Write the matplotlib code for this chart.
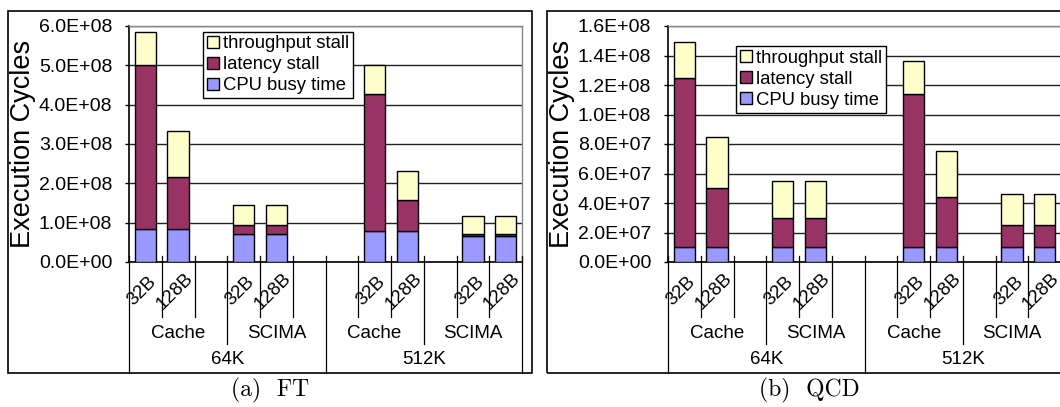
import numpy as np
import matplotlib
matplotlib.use("Agg")
import matplotlib.pyplot as plt
from matplotlib.patches import Rectangle, Patch
from matplotlib.ticker import FuncFormatter
from matplotlib.transforms import blended_transform_factory

plt.rcParams['font.family'] = ['Liberation Sans', 'DejaVu Sans']

# ---- data -----------------------------------------------------------
slot_labels = ['32B', '128B', '', '32B', '128B', '', '', '32B', '128B', '', '32B', '128B']
bar_slots = [0, 1, 3, 4, 7, 8, 10, 11]
mid_labels = ['Cache', 'SCIMA', 'Cache', 'SCIMA']
top_labels = ['64K', '512K']
series = ['CPU busy time', 'latency stall', 'throughput stall']
colors = ['#9999FF', '#993366', '#FFFFCC']

ft_cpu = [0.85e8, 0.85e8, 0.70e8, 0.70e8, 0.78e8, 0.78e8, 0.67e8, 0.67e8]
ft_lat = [4.15e8, 1.32e8, 0.25e8, 0.25e8, 3.50e8, 0.80e8, 0.04e8, 0.04e8]
ft_thr = [0.86e8, 1.15e8, 0.50e8, 0.50e8, 0.72e8, 0.73e8, 0.46e8, 0.46e8]

qcd_cpu = [1.0e7, 1.0e7, 1.0e7, 1.0e7, 1.0e7, 1.0e7, 1.0e7, 1.0e7]
qcd_lat = [11.5e7, 4.0e7, 2.0e7, 2.0e7, 10.4e7, 3.4e7, 1.5e7, 1.5e7]
qcd_thr = [2.4e7, 3.5e7, 2.5e7, 2.5e7, 2.2e7, 3.1e7, 2.1e7, 2.1e7]

W, H = 1060, 407
fig = plt.figure(figsize=(W / 100, H / 100), dpi=100)


def fx(px):
    return px / W


def fy(py):
    return 1 - py / H


def panel(x0, frame_x0, data, ymax, ystep, caption, leg_xy):
    # outer chart frame (Excel chart area)
    fig.patches.append(Rectangle((fx(frame_x0), fy(372.5)), fx(524), fy(10.5) - fy(372.5),
                                 transform=fig.transFigure, fill=False,
                                 edgecolor='black', lw=1.2, zorder=0))
    ax = fig.add_axes([fx(x0), fy(262), fx(393), fy(26) - fy(262)])
    n = len(slot_labels)
    ax.set_xlim(0, n)
    ax.set_ylim(0, ymax)
    ax.set_yticks(np.arange(0, ymax + ystep / 2, ystep))
    ax.yaxis.set_major_formatter(FuncFormatter(lambda v, p: f"{v:.1E}"))
    ax.tick_params(axis='y', direction='out', length=3, width=1, pad=9, labelsize=14)
    ax.set_xticks([])
    ax.grid(axis='y', color='#222222', lw=1)
    ax.set_axisbelow(True)
    for s in ['top', 'right']:
        ax.spines[s].set_color('#888888')
        ax.spines[s].set_linewidth(1)
    for s in ['left', 'bottom']:
        ax.spines[s].set_color('black')
        ax.spines[s].set_linewidth(1.2)

    x = np.array(bar_slots) + 0.5
    bottom = np.zeros(len(x))
    for vals, c in zip(data, colors):
        ax.bar(x, vals, width=0.66, bottom=bottom, color=c,
               edgecolor='black', lw=1, zorder=3)
        bottom = bottom + np.array(vals)

    ax.set_ylabel('Execution Cycles', fontsize=19.5)
    ax.yaxis.set_label_coords(-93 / 393, 0.5)

    # multi-level category axis
    tr = blended_transform_factory(ax.transData, ax.transAxes)
    pxh = 236.0

    def yf(py):
        return (262 - py) / pxh

    for i in range(n + 1):
        if i % 6 == 0:
            y1 = yf(372.5)
        elif i % 3 == 0:
            y1 = yf(344)
        else:
            y1 = yf(317)
        ax.plot([i, i], [yf(256), y1], color='black', lw=0.9,
                transform=tr, clip_on=False, zorder=5)
    for i, lab in enumerate(slot_labels):
        if lab:
            ax.text(i + 0.4, yf(291), lab, transform=tr, rotation=45,
                    ha='center', va='center', fontsize=13.5,
                    rotation_mode='anchor')
    for j, lab in enumerate(mid_labels):
        ax.text(j * 3 + 1.5, yf(334), lab, transform=tr, ha='center',
                va='center', fontsize=13.5)
    for j, lab in enumerate(top_labels):
        ax.text(j * 6 + 3, yf(360), lab, transform=tr, ha='center',
                va='center', fontsize=13.5)

    handles = [Patch(facecolor=c, edgecolor='black', lw=1, label=l)
               for c, l in zip(colors[::-1], series[::-1])]
    leg = fig.legend(handles=handles, loc='upper left',
                     bbox_to_anchor=(fx(leg_xy[0]), fy(leg_xy[1])),
                     frameon=True, fancybox=False, framealpha=1,
                     edgecolor='black', fontsize=13.3, handlelength=0.65,
                     handleheight=0.65, handletextpad=0.25, labelspacing=0.22,
                     borderpad=0.2, borderaxespad=0)
    leg.get_frame().set_linewidth(1)
    fig.text(fx(frame_x0 + 262), fy(390), caption, ha='center', va='center',
             fontfamily='cmr10', fontsize=17)
    return ax


panel(129, 8, [ft_cpu, ft_lat, ft_thr], 6e8, 1e8, '(a)  FT', (203, 31.5))
panel(668, 547, [qcd_cpu, qcd_lat, qcd_thr], 1.6e8, 0.2e8, '(b)  QCD', (736, 46))

fig.savefig('out.png', dpi=100)
